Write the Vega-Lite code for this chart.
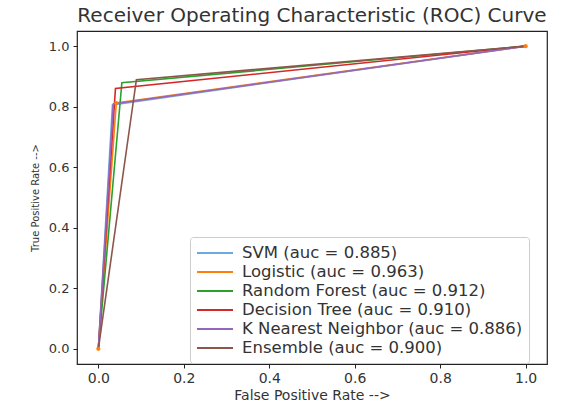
{
  "$schema": "https://vega.github.io/schema/vega-lite/v6.json",
  "width": 470,
  "height": 333,
  "autosize": {"type": "none"},
  "padding": {"left": 77, "top": 31, "right": 23, "bottom": 39},
  "background": "white",
  "config": {
    "font": "DejaVu Sans",
    "view": {"stroke": "#222", "strokeWidth": 1.2},
    "axis": {"grid": false, "domain": false, "tickColor": "#222", "tickSize": 4, "labelColor": "#333", "titleColor": "#333", "titleFontWeight": "normal", "labelFont": "DejaVu Sans", "titleFont": "DejaVu Sans"}
  },
  "title": {"text": "Receiver Operating Characteristic (ROC) Curve", "fontSize": 20, "fontWeight": "normal", "color": "#333", "offset": 5, "font": "DejaVu Sans"},
  "data": {"values": [
    {"series": "SVM (auc = 0.885)", "fpr": 0.0, "tpr": 0.0},
    {"series": "SVM (auc = 0.885)", "fpr": 0.033, "tpr": 0.806},
    {"series": "SVM (auc = 0.885)", "fpr": 1.0, "tpr": 1.0},
    {"series": "Logistic (auc = 0.963)", "fpr": 0.0, "tpr": 0.0},
    {"series": "Logistic (auc = 0.963)", "fpr": 0.042, "tpr": 0.812},
    {"series": "Logistic (auc = 0.963)", "fpr": 1.0, "tpr": 1.0},
    {"series": "Random Forest (auc = 0.912)", "fpr": 0.0, "tpr": 0.0},
    {"series": "Random Forest (auc = 0.912)", "fpr": 0.055, "tpr": 0.879},
    {"series": "Random Forest (auc = 0.912)", "fpr": 1.0, "tpr": 1.0},
    {"series": "Decision Tree (auc = 0.910)", "fpr": 0.0, "tpr": 0.0},
    {"series": "Decision Tree (auc = 0.910)", "fpr": 0.040, "tpr": 0.860},
    {"series": "Decision Tree (auc = 0.910)", "fpr": 1.0, "tpr": 1.0},
    {"series": "K Nearest Neighbor (auc = 0.886)", "fpr": 0.0, "tpr": 0.0},
    {"series": "K Nearest Neighbor (auc = 0.886)", "fpr": 0.035, "tpr": 0.809},
    {"series": "K Nearest Neighbor (auc = 0.886)", "fpr": 1.0, "tpr": 1.0},
    {"series": "Ensemble (auc = 0.900)", "fpr": 0.0, "tpr": 0.0},
    {"series": "Ensemble (auc = 0.900)", "fpr": 0.089, "tpr": 0.889},
    {"series": "Ensemble (auc = 0.900)", "fpr": 1.0, "tpr": 1.0}
  ]},
  "encoding": {
    "x": {"field": "fpr", "type": "quantitative", "title": "False Positive Rate -->",
      "scale": {"domain": [-0.05, 1.05], "nice": false, "zero": false},
      "axis": {"values": [0, 0.2, 0.4, 0.6, 0.8, 1.0], "format": ".1f", "labelFontSize": 14, "titleFontSize": 14, "labelPadding": 3, "titlePadding": 3}},
    "y": {"field": "tpr", "type": "quantitative", "title": "True Positive Rate -->",
      "scale": {"domain": [-0.05, 1.05], "nice": false, "zero": false},
      "axis": {"values": [0, 0.2, 0.4, 0.6, 0.8, 1.0], "format": ".1f", "labelFontSize": 13, "titleFontSize": 10, "labelPadding": 4, "titlePadding": 8}}
  },
  "layer": [
    {
      "mark": {"type": "line", "strokeWidth": 1.6},
      "encoding": {
        "color": {"field": "series", "type": "nominal",
          "scale": {
            "domain": ["SVM (auc = 0.885)", "Logistic (auc = 0.963)", "Random Forest (auc = 0.912)", "Decision Tree (auc = 0.910)", "K Nearest Neighbor (auc = 0.886)", "Ensemble (auc = 0.900)"],
            "range": ["#6fa8dc", "#ff7f0e", "#2ca02c", "#d62728", "#9467bd", "#8c564b"]
          },
          "legend": {"title": null, "orient": "none", "legendX": 113, "legendY": 206, "symbolType": "M-1,0H3", "symbolSize": 324, "symbolStrokeWidth": 2, "symbolFillColor": "transparent", "labelFontSize": 16.5, "labelColor": "#333", "labelOffset": 26, "labelLimit": 400, "rowPadding": 0, "padding": 6, "strokeColor": "#ccc", "cornerRadius": 3, "fillColor": "white", "labelFont": "DejaVu Sans"}
        },
        "order": {"field": "fpr", "type": "quantitative"}
      }
    },
    {
      "transform": [{"filter": "datum.series === 'Logistic (auc = 0.963)'"}],
      "mark": {"type": "point", "filled": true, "size": 18, "color": "#ff7f0e", "opacity": 1}
    }
  ]
}
